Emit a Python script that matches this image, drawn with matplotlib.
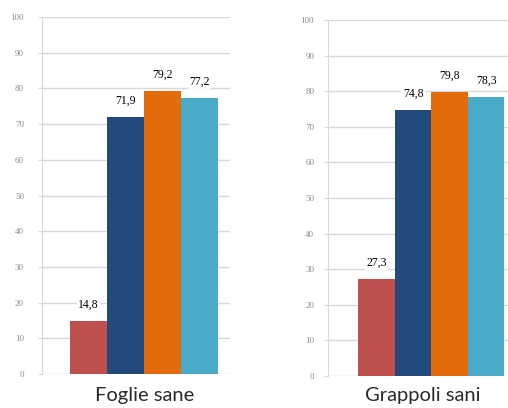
import numpy as np
import matplotlib
matplotlib.use("Agg")
import matplotlib.pyplot as plt

# percentages per treatment, one panel per plant part
groups = ["Foglie sane", "Grappoli sani"]
foglie = [14.8, 71.9, 79.2, 77.2]
grappoli = [27.3, 74.8, 79.8, 78.3]
yticks = [0, 10, 20, 30, 40, 50, 60, 70, 80, 90, 100]

COLORS = ["#c0504d", "#234a7c", "#e36c0a", "#4aabc8"]
GRID = "#d9d9d9"

fig = plt.figure(figsize=(5.08, 4.08), dpi=100)
ax1 = fig.add_axes([0.0827, 0.0833, 0.370, 0.875])
ax2 = fig.add_axes([0.6457, 0.0784, 0.3543, 0.8726])


def draw_panel(ax, vals, xlim, pad):
    x = np.arange(len(vals))
    bars = ax.bar(x, vals, width=1.0, color=COLORS, linewidth=0, zorder=3)
    for b, v in zip(bars, vals):
        ax.text(b.get_x() + b.get_width() / 2, v + 2.9, f"{v:.1f}".replace(".", ","),
                ha="center", va="bottom", fontsize=8.5, family="Liberation Serif",
                color="black", zorder=4,
                bbox=dict(facecolor="white", edgecolor="none", pad=1.0))
    ax.set_xlim(*xlim)
    ax.set_ylim(0, 100)
    ax.set_yticks(yticks)
    ax.set_yticklabels([str(t) for t in yticks], family="Liberation Serif",
                       fontsize=6.5, color="#8c8c8c")
    ax.tick_params(axis="y", length=3, color=GRID, pad=pad)
    ax.set_xticks([])
    ax.grid(axis="y", color=GRID, linewidth=1, zorder=0)
    for s in ("top", "right", "bottom"):
        ax.spines[s].set_visible(False)
    ax.spines["left"].set_color(GRID)
    ax.patch.set_alpha(0)


draw_panel(ax1, foglie, (-1.26, 3.82), 10)
draw_panel(ax2, grappoli, (-1.33, 3.6), 7)

fig.text(0.284, 0.030, groups[0], ha="center", va="center",
         fontsize=14.5, family="Lato", color="#2a2a2a")
fig.text(0.833, 0.030, groups[1], ha="center", va="center",
         fontsize=14.5, family="Lato", color="#2a2a2a")

fig.savefig("out.png", dpi=100)
